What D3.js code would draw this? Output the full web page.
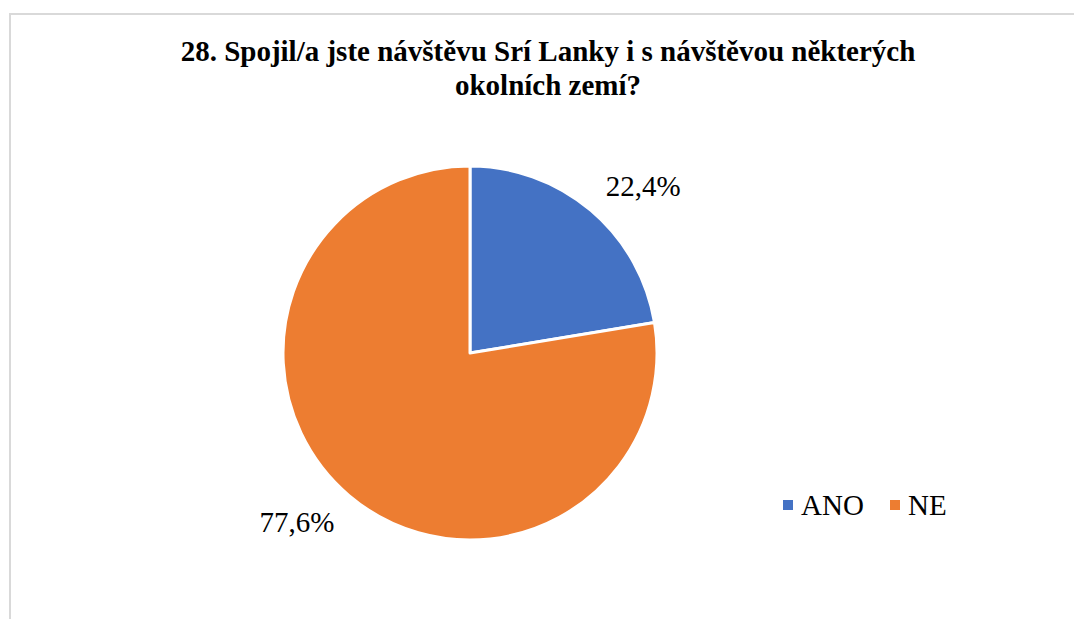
<!DOCTYPE html>
<html>
<head>
<meta charset="utf-8">
<script src="https://cdn.jsdelivr.net/npm/d3@7"></script>
<style>
  html, body { margin: 0; padding: 0; background: #fff; }
  svg { display: block; }
  svg text { font-family: 'Liberation Serif', 'Times New Roman', serif; }
</style>
</head>
<body>
<svg id="chart" width="1074" height="619"></svg>
<script>
var categories = ['ANO', 'NE']
var values = [22.4, 77.6]
var labelText = ['22,4%', '77,6%']
var titleLines = ['28. Spojil/a jste návštěvu Srí Lanky i s návštěvou některých', 'okolních zemí?']

var colors = d3.scaleOrdinal().domain(categories).range(['#4472C4', '#ED7D31'])

var svg = d3.select('#chart')

// chart frame (runs off the right and bottom)
svg.append('rect')
  .attr('x', 10).attr('y', 14)
  .attr('width', 1100).attr('height', 700)
  .attr('fill', '#fff')
  .attr('stroke', '#d9d9d9')
  .attr('stroke-width', 2)

svg.append('g')
  .selectAll('text')
  .data(titleLines)
  .join('text')
  .attr('x', 548)
  .attr('y', (d, i) => 61 + i * 34)
  .attr('text-anchor', 'middle')
  .attr('font-size', 29)
  .attr('font-weight', 'bold')
  .attr('fill', '#000')
  .text((d) => d)

var center = { x: 470, y: 353 }
var radius = 187

var pie = d3.pie().sort(null).value((d) => d)
var arcs = pie(values)
var arc = d3.arc().innerRadius(0).outerRadius(radius)

var g = svg.append('g')
  .attr('transform', 'translate(' + center.x + ',' + center.y + ')')

g.selectAll('path')
  .data(arcs)
  .join('path')
  .attr('d', arc)
  .attr('fill', (d, i) => colors(categories[i]))
  .attr('stroke', '#fff')
  .attr('stroke-width', 3)
  .attr('stroke-linejoin', 'round')

// data labels sit just outside the slices
var labelArc = d3.arc().innerRadius(radius * 1.15).outerRadius(radius * 1.15)
var labelOffset = [[34, -3], [-34, 5]]
g.selectAll('text.lbl')
  .data(arcs)
  .join('text')
  .attr('class', 'lbl')
  .attr('x', (d, i) => labelArc.centroid(d)[0] + labelOffset[i][0])
  .attr('y', (d, i) => labelArc.centroid(d)[1] + labelOffset[i][1])
  .attr('text-anchor', 'middle')
  .attr('dy', '0.35em')
  .attr('font-size', 29)
  .attr('fill', '#000')
  .text((d, i) => labelText[i])

// legend
var legend = svg.append('g').attr('transform', 'translate(783,505)')
var legendX = d3.scalePoint().domain(categories).range([0, 107])
var item = legend.selectAll('g')
  .data(categories)
  .join('g')
  .attr('transform', (d) => 'translate(' + legendX(d) + ',0)')
item.append('rect')
  .attr('x', 0).attr('y', -5)
  .attr('width', 10).attr('height', 10)
  .attr('fill', (d) => colors(d))
item.append('text')
  .attr('x', 18)
  .attr('y', 0)
  .attr('dy', '0.35em')
  .attr('font-size', 29)
  .attr('fill', '#000')
  .text((d) => d)
</script>
</body>
</html>
